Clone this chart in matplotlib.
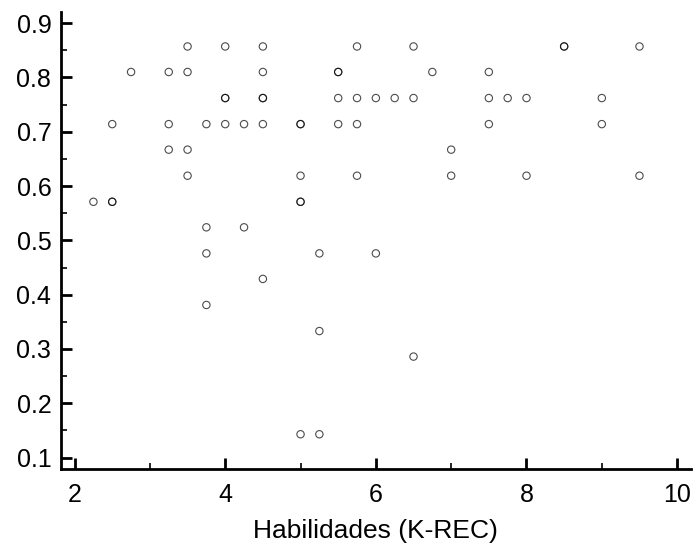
import matplotlib
matplotlib.use("Agg")
import matplotlib.pyplot as plt
from matplotlib.ticker import MultipleLocator

plt.rcParams['font.family'] = ['Liberation Sans', 'DejaVu Sans']

# Habilidades (K-REC) scores
x_vals = [3.5, 4, 4.5, 5.75, 6.5, 8.5, 8.5, 9.5,
          2.75, 3.25, 3.5, 4.5, 5.5, 5.5, 6.75, 7.5,
          4, 4, 4.5, 4.5, 5.5, 5.75, 6, 6.25, 6.5, 7.5, 7.75, 8, 9,
          2.5, 3.25, 3.75, 4, 4.25, 4.5, 5, 5, 5.5, 5.75, 7.5, 9,
          3.25, 3.5, 7,
          3.5, 5, 5.75, 7, 8, 9.5,
          2.25, 2.5, 2.5, 5, 5,
          3.75, 4.25,
          3.75, 5.25, 6,
          4.5,
          3.75,
          5.25,
          6.5,
          5, 5.25]
# y values
y_vals = [0.857, 0.857, 0.857, 0.857, 0.857, 0.857, 0.857, 0.857,
          0.810, 0.810, 0.810, 0.810, 0.810, 0.810, 0.810, 0.810,
          0.762, 0.762, 0.762, 0.762, 0.762, 0.762, 0.762, 0.762, 0.762, 0.762, 0.762, 0.762, 0.762,
          0.714, 0.714, 0.714, 0.714, 0.714, 0.714, 0.714, 0.714, 0.714, 0.714, 0.714, 0.714,
          0.667, 0.667, 0.667,
          0.619, 0.619, 0.619, 0.619, 0.619, 0.619,
          0.571, 0.571, 0.571, 0.571, 0.571,
          0.524, 0.524,
          0.476, 0.476, 0.476,
          0.429,
          0.381,
          0.333,
          0.286,
          0.143, 0.143]

x_label = "Habilidades (K-REC)"
x_ticks = [2, 4, 6, 8, 10]
y_ticks = [0.1, 0.2, 0.3, 0.4, 0.5, 0.6, 0.7, 0.8, 0.9]

fig = plt.figure(figsize=(6.95, 5.49), dpi=100)
ax = fig.add_axes([0.0878, 0.1457, 0.906, 0.832])

ax.scatter(x_vals, y_vals, s=28, facecolors='none', edgecolors=(0, 0, 0, 0.7),
           linewidths=0.8, zorder=3)

ax.set_xlim(1.82, 10.18)
ax.set_ylim(0.079, 0.92)
ax.set_xticks(x_ticks)
ax.set_yticks(y_ticks)
ax.set_xticklabels([str(t) for t in x_ticks])
ax.set_yticklabels([f"{t:.1f}" for t in y_ticks])
ax.xaxis.set_minor_locator(MultipleLocator(1))
ax.yaxis.set_minor_locator(MultipleLocator(0.05))

for s in ['top', 'right']:
    ax.spines[s].set_visible(False)
for s in ['left', 'bottom']:
    ax.spines[s].set_linewidth(2)

ax.tick_params(which='major', direction='in', length=8, width=2, labelsize=18, pad=7)
ax.tick_params(axis='x', which='major', pad=10)
ax.tick_params(which='minor', direction='in', length=4, width=1.2)

ax.set_xlabel(x_label, fontsize=19, labelpad=9)

fig.savefig("out.png", dpi=100)
